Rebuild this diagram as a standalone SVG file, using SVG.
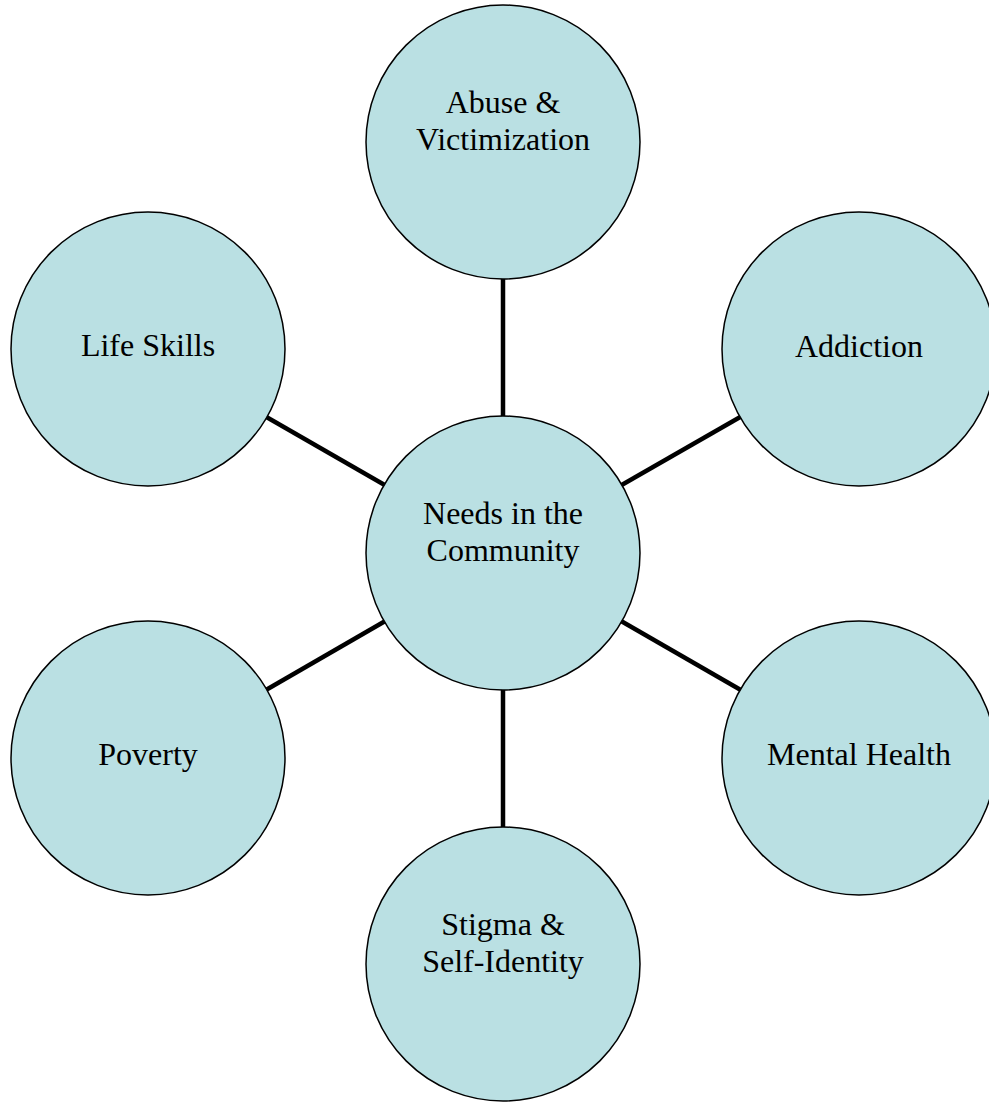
<svg xmlns="http://www.w3.org/2000/svg" width="989" height="1102" viewBox="0 0 989 1102">
<style>
.n circle{fill:#BAE0E3;stroke:#000;stroke-width:1.5}
.n text{font-family:"Liberation Serif","Times New Roman",serif;font-size:32px;fill:#000;text-anchor:middle}
.c line{stroke:#000;stroke-width:4.5}
</style>
<rect width="989" height="1102" fill="#fff"/>
<g id="connectors" class="c">
<line x1="503" y1="553" x2="503" y2="142"/>
<line x1="503" y1="553" x2="859" y2="349"/>
<line x1="503" y1="553" x2="148" y2="349"/>
<line x1="503" y1="553" x2="148" y2="758"/>
<line x1="503" y1="553" x2="859" y2="758"/>
<line x1="503" y1="553" x2="503" y2="964"/>
</g>
<g id="abuse" class="n"><circle cx="503" cy="142" r="137"/><text x="503" y="113">Abuse &amp;</text><text x="503" y="150">Victimization</text></g>
<g id="life-skills" class="n"><circle cx="148" cy="349" r="137"/><text x="148" y="356">Life Skills</text></g>
<g id="addiction" class="n"><circle cx="859" cy="349" r="137"/><text x="859" y="357">Addiction</text></g>
<g id="needs" class="n"><circle cx="503" cy="553" r="137"/><text x="503" y="524">Needs in the</text><text x="503" y="561">Community</text></g>
<g id="poverty" class="n"><circle cx="148" cy="758" r="137"/><text x="148" y="765">Poverty</text></g>
<g id="mental-health" class="n"><circle cx="859" cy="758" r="137"/><text x="859" y="765">Mental Health</text></g>
<g id="stigma" class="n"><circle cx="503" cy="964" r="137"/><text x="503" y="935">Stigma &amp;</text><text x="503" y="972">Self-Identity</text></g>
</svg>
